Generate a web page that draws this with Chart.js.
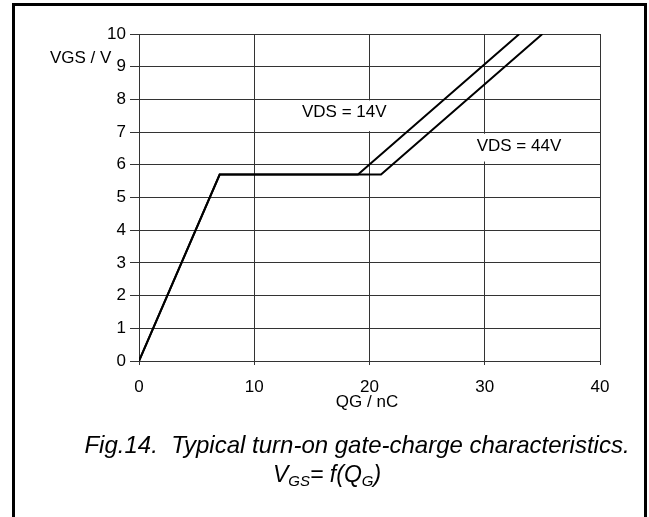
<!DOCTYPE html>
<html>
<head>
<meta charset="utf-8">
<script src="https://cdn.jsdelivr.net/npm/chart.js@4"></script>
<style>
  html, body { margin: 0; padding: 0; background: #fff; overflow: hidden; }
  #wrap { position: relative; width: 649px; height: 517px; }
  #frame {
    position: absolute; left: 12px; top: 3px;
    width: 629px; height: 600px;
    border: 3px solid #000; pointer-events: none;
  }
  canvas { position: absolute; left: 0; top: 0; }
</style>
</head>
<body>
<div id="wrap">
  <canvas id="chart" width="649" height="517"></canvas>
  <div id="frame"></div>
</div>
<script>
// gate charge curves, QG in nC, VGS in V
const qg14 = [0, 7, 19, 33];
const vgs14 = [0, 5.7, 5.7, 10];
const qg44 = [0, 7, 21, 35];
const vgs44 = [0, 5.7, 5.7, 10];

const xTicks = [0, 10, 20, 30, 40];
const yTicks = [0, 1, 2, 3, 4, 5, 6, 7, 8, 9, 10];

const FONT = "'Liberation Sans', Arial, sans-serif";
const GRID = "#333";

function toPoints(xs, ys) {
  return xs.map((x, i) => ({ x: x, y: ys[i] }));
}

// curve labels, boxed in white so they cut the grid
const curveLabels = [
  { text: "VDS = 14V", x: 14.14, y: 7.62, top: 7.97, bottom: 7.03 },
  { text: "VDS = 44V", x: 29.3, y: 6.58, top: 6.95, bottom: 6.1 }
];

const textPlugin = {
  id: "texts",
  beforeDatasetsDraw(chart) {
    const ctx = chart.ctx;
    const xs = chart.scales.x, ys = chart.scales.y;
    ctx.save();
    ctx.font = "17px " + FONT;
    ctx.textBaseline = "middle";
    ctx.textAlign = "left";
    curveLabels.forEach(l => {
      const px = xs.getPixelForValue(l.x);
      const w = ctx.measureText(l.text).width;
      const t = ys.getPixelForValue(l.top);
      const b = ys.getPixelForValue(l.bottom);
      ctx.fillStyle = "#fff";
      ctx.fillRect(px - 3, t, w + 6, b - t);
      ctx.fillStyle = "#000";
      ctx.fillText(l.text, px, ys.getPixelForValue(l.y));
    });
    ctx.restore();
  },
  afterDraw(chart) {
    const ctx = chart.ctx;
    ctx.save();
    ctx.fillStyle = "#000";
    ctx.font = "17px " + FONT;
    ctx.textBaseline = "alphabetic";
    ctx.textAlign = "left";
    ctx.fillText("VGS / V", 50, 63);
    ctx.textAlign = "center";
    ctx.fillText("QG / nC", 367, 407);

    // caption
    ctx.font = "italic 24px " + FONT;
    ctx.fillText("Fig.14.  Typical turn-on gate-charge characteristics.", 357, 453);

    // second line with subscripts
    const parts = [
      { t: "V", size: 23, dy: 0 },
      { t: "GS", size: 15, dy: 4 },
      { t: "= f(Q", size: 23, dy: 0 },
      { t: "G", size: 15, dy: 4 },
      { t: ")", size: 23, dy: 0 }
    ];
    ctx.textAlign = "left";
    let x = 273;
    parts.forEach(p => {
      ctx.font = "italic " + p.size + "px " + FONT;
      ctx.fillText(p.t, x, 482 + p.dy);
      x += ctx.measureText(p.t).width;
    });
    ctx.restore();
  }
};

const lineStyle = {
  borderColor: "#000",
  borderWidth: 2,
  pointRadius: 0,
  fill: false,
  tension: 0
};

new Chart(document.getElementById("chart").getContext("2d"), {
  type: "line",
  data: {
    datasets: [
      Object.assign({ label: "VDS = 14V", data: toPoints(qg14, vgs14) }, lineStyle),
      Object.assign({ label: "VDS = 44V", data: toPoints(qg44, vgs44) }, lineStyle)
    ]
  },
  options: {
    responsive: false,
    animation: false,
    events: [],
    layout: { padding: { left: 0, top: 34, right: 49, bottom: 0 } },
    plugins: {
      legend: { display: false },
      tooltip: { enabled: false },
      title: { display: false }
    },
    scales: {
      x: {
        type: "linear",
        min: 0,
        max: 40,
        afterBuildTicks: s => { s.ticks = xTicks.map(v => ({ value: v })); },
        afterFit: s => { s.height = 156; },
        ticks: { color: "#000", font: { family: FONT, size: 17 }, padding: 12, maxRotation: 0 },
        grid: { color: GRID, lineWidth: 1, tickLength: 4 },
        border: { color: GRID }
      },
      y: {
        type: "linear",
        min: 0,
        max: 10,
        afterBuildTicks: s => { s.ticks = yTicks.map(v => ({ value: v })); },
        afterFit: s => { s.width = 139; },
        ticks: { color: "#000", font: { family: FONT, size: 17 }, padding: 4 },
        grid: { color: GRID, lineWidth: 1, tickLength: 9 },
        border: { color: GRID }
      }
    }
  },
  plugins: [textPlugin]
});
</script>
</body>
</html>
